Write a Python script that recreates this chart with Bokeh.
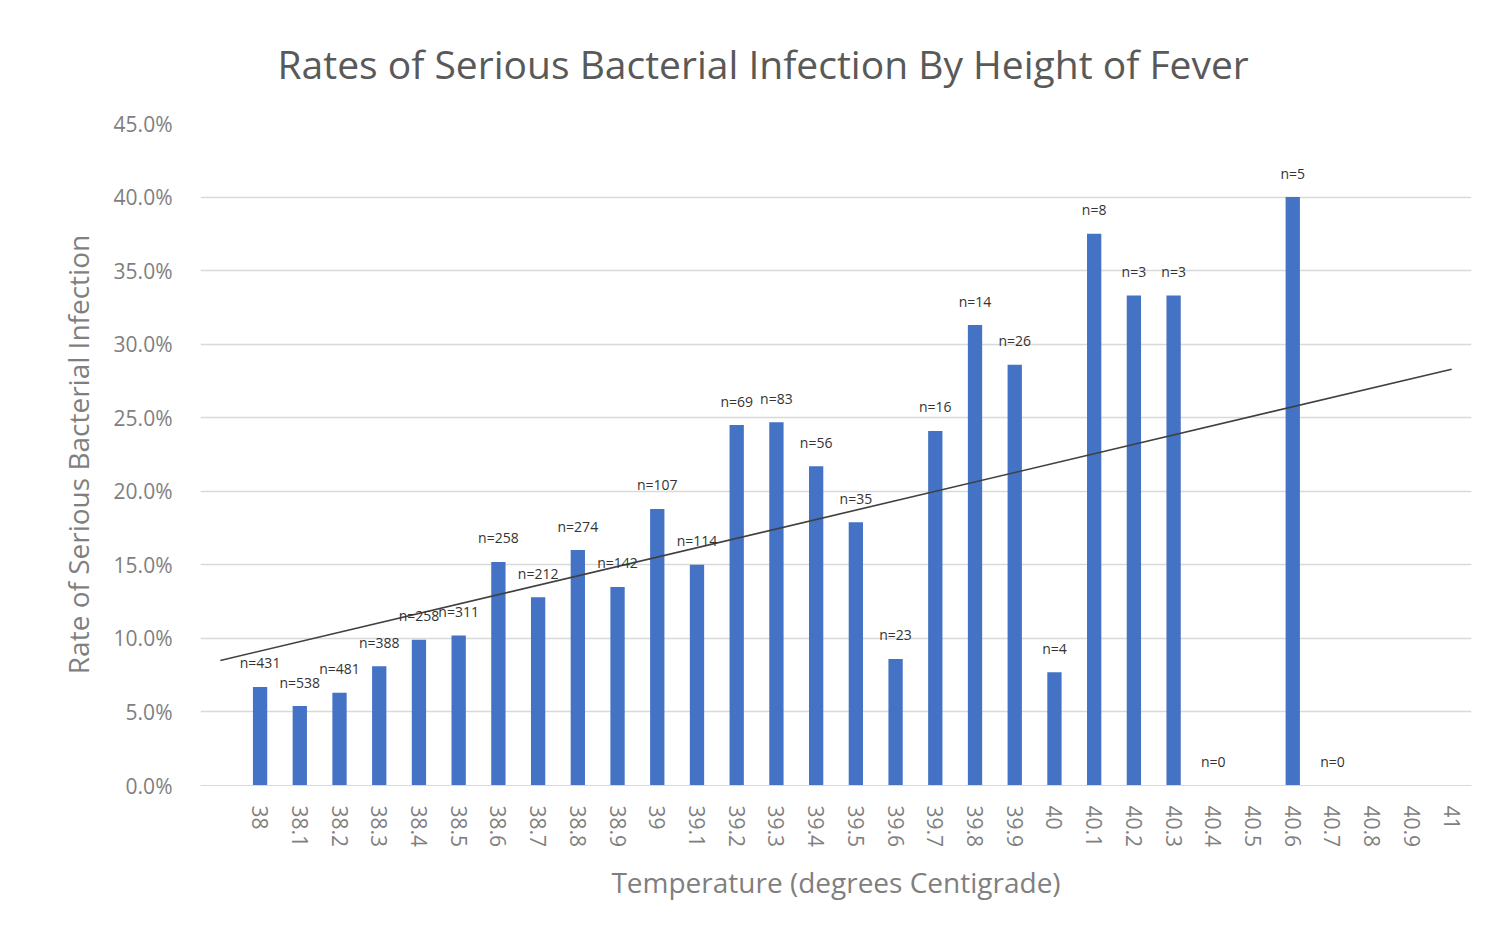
from bokeh.plotting import figure
from bokeh.models import Range1d, FixedTicker, PrintfTickFormatter, ColumnDataSource
from bokeh.core.properties import value
from bokeh.embed import file_html
from bokeh.resources import INLINE

# Temperature categories (a blank leading category precedes 38)
temps = ["38", "38.1", "38.2", "38.3", "38.4", "38.5", "38.6", "38.7", "38.8", "38.9",
         "39", "39.1", "39.2", "39.3", "39.4", "39.5", "39.6", "39.7", "39.8", "39.9",
         "40", "40.1", "40.2", "40.3", "40.4", "40.5", "40.6", "40.7", "40.8", "40.9", "41"]
# Rate of serious bacterial infection (%), None = no data
rates = [6.7, 5.4, 6.3, 8.1, 9.9, 10.2, 15.2, 12.8, 16.0, 13.5,
         18.8, 15.0, 24.5, 24.7, 21.7, 17.9, 8.6, 24.1, 31.3, 28.6,
         7.7, 37.5, 33.3, 33.3, 0.0, None, 40.0, 0.0, None, None, None]
# Sample size labels
counts = ["n=431", "n=538", "n=481", "n=388", "n=258", "n=311", "n=258", "n=212", "n=274", "n=142",
          "n=107", "n=114", "n=69", "n=83", "n=56", "n=35", "n=23", "n=16", "n=14", "n=26",
          "n=4", "n=8", "n=3", "n=3", "n=0", "", "n=5", "n=0", "", "", ""]
# Linear trendline values read at the first (blank) and last category
trend_start = 8.5
trend_end = 28.3

FONT = "Open Sans"

xs = [i + 1 for i in range(len(temps)) if rates[i] is not None]
ys = [rates[i] for i in range(len(temps)) if rates[i] is not None]
labs = [counts[i] for i in range(len(temps)) if rates[i] is not None]
src = ColumnDataSource(data=dict(x=xs, y=ys, lab=labs))

p = figure(width=1478, height=922, output_backend="svg", toolbar_location=None,
           x_range=Range1d(-0.5, len(temps) + 0.5), y_range=Range1d(0, 45),
           min_border_left=200, min_border_right=7, min_border_top=123, min_border_bottom=137)
p.outline_line_color = None
p.background_fill_color = "white"
p.border_fill_color = "white"

p.title.text = "Rates of Serious Bacterial Infection By Height of Fever"
p.title.align = "left"
p.title.offset = 77
p.title.text_font = FONT
p.title.text_font_style = "normal"
p.title.text_font_size = "39px"
p.title.text_color = "#595959"
p.title.standoff = 68

p.vbar(x="x", top="y", width=0.36, bottom=0, source=src, fill_color="#4472C4", line_color=None)

p.line(x=[0, len(temps)], y=[trend_start, trend_end], line_color="#404040", line_width=1.6)

p.text(x="x", y="y", text="lab", source=src, text_align="center", text_baseline="middle",
       y_offset=-24, text_font=value(FONT), text_font_size="14px", text_color="#333333",
       text_font_style="normal")

# x axis
p.xaxis.ticker = FixedTicker(ticks=list(range(1, len(temps) + 1)))
p.xaxis.major_label_overrides = {i + 1: t for i, t in enumerate(temps)}
p.xaxis.major_label_orientation = "vertical"
p.xaxis.major_label_text_font = FONT
p.xaxis.major_label_text_font_size = "21px"
p.xaxis.major_label_text_color = "#7f7f7f"
p.xaxis.major_label_standoff = 14
p.xaxis.major_tick_line_color = None
p.xaxis.minor_tick_line_color = None
p.xaxis.axis_line_color = "#d9d9d9"
p.xaxis.axis_label = "Temperature (degrees Centigrade)"
p.xaxis.axis_label_text_font = FONT
p.xaxis.axis_label_text_font_style = "normal"
p.xaxis.axis_label_text_font_size = "28px"
p.xaxis.axis_label_text_color = "#7f7f7f"
p.xaxis.axis_label_standoff = 13
p.xgrid.grid_line_color = None

# y axis
p.yaxis.ticker = FixedTicker(ticks=list(range(0, 50, 5)))
p.yaxis.formatter = PrintfTickFormatter(format="%.1f%%")
p.yaxis.major_label_text_font = FONT
p.yaxis.major_label_text_font_size = "21px"
p.yaxis.major_label_text_color = "#7f7f7f"
p.yaxis.major_label_standoff = 22
p.yaxis.major_tick_line_color = None
p.yaxis.minor_tick_line_color = None
p.yaxis.axis_line_color = None
p.yaxis.axis_label = "Rate of Serious Bacterial Infection"
p.yaxis.axis_label_text_font = FONT
p.yaxis.axis_label_text_font_style = "normal"
p.yaxis.axis_label_text_font_size = "28px"
p.yaxis.axis_label_text_color = "#7f7f7f"
p.yaxis.axis_label_standoff = 14
p.ygrid.grid_line_color = "#d9d9d9"
p.ygrid.grid_line_width = 1.5

open("out.html", "w").write(file_html(p, INLINE))
